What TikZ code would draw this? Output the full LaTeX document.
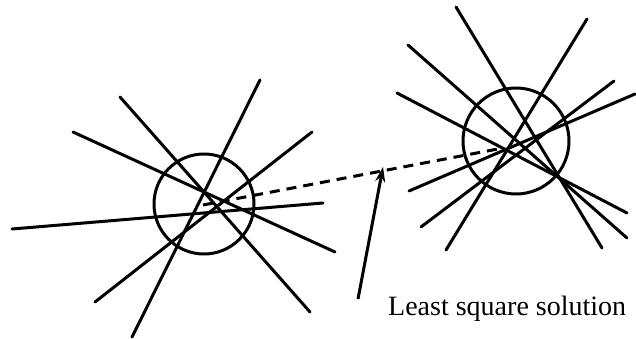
\documentclass[tikz,border=0pt]{standalone}
\usepackage{fontspec}
\setmainfont{Liberation Serif}
\usetikzlibrary{arrows.meta}
\begin{document}
\begin{tikzpicture}[x=1pt,y=-1pt,
  ray/.style={line width=3pt,line cap=round},
  ring/.style={line width=3pt},
  link/.style={line width=3pt,dash pattern=on 10pt off 7pt},
  pointer/.style={line width=3pt,-{Stealth[length=15pt,width=10pt]}},
  caption/.style={font=\fontsize{28}{31}\selectfont,inner sep=0pt,anchor=base west}]
\useasboundingbox (0,0) rectangle (636,339);
% left cluster
\coordinate (cL) at (204,204);
\draw[ring] (cL) circle (50);
\draw[ray] (120,97) -- (310,312);
\draw[ray] (73,132) -- (335,252);
\draw[ray] (260,80) -- (132,337);
\draw[ray] (312,132) -- (95,302);
\draw[ray] (12,229) -- (323,203);
% right cluster
\coordinate (cR) at (516,141);
\draw[ring] (cR) circle (53);
\draw[ray] (456,7) -- (602,248);
\draw[ray] (408,45) -- (627,238);
\draw[ray] (397,93) -- (627,213);
\draw[ray] (587,19) -- (446,250);
\draw[ray] (614,81) -- (421,227);
\draw[ray] (635,94) -- (409,191);
% dashed link between least square points
\coordinate (pL) at (203,205);
\coordinate (pR) at (503,148);
\draw[link] (pL) -- (pR);
% arrow and caption
\node[caption] (cap) at (388,315.5) {Least square solution};
\coordinate (tail) at (358,299);
\coordinate (tip) at (383,167);
\draw[pointer] (tail) -- (tip);
\end{tikzpicture}
\end{document}
